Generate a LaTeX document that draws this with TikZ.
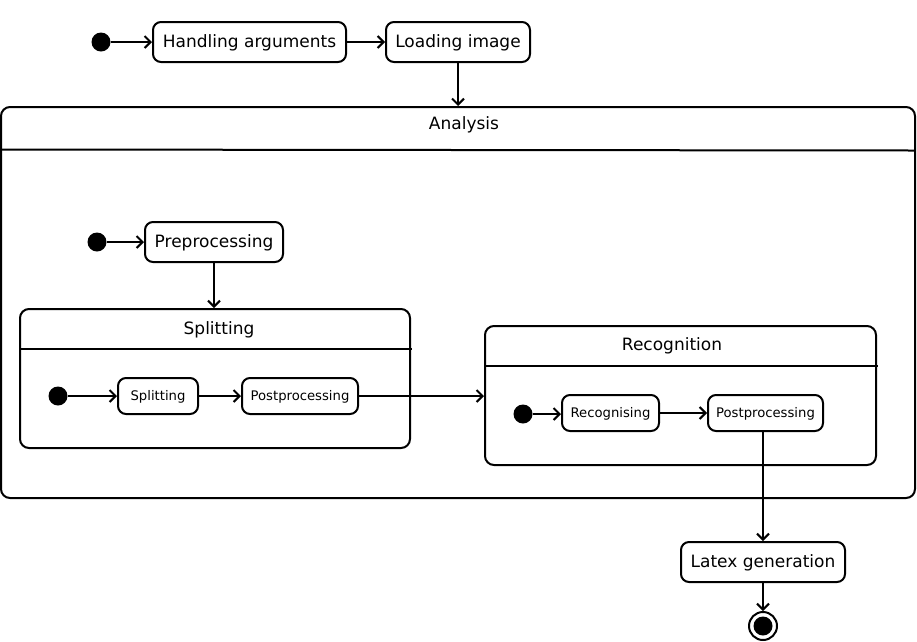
\documentclass[tikz,border=0pt]{standalone}
\usepackage{fontspec}
\setmainfont{DejaVu Sans}
\usetikzlibrary{arrows.meta}
\begin{document}
\begin{tikzpicture}[x=1pt,y=-1pt,
  lw/.style={line width=2pt},
  bigtext/.style={font=\fontsize{17}{20}\selectfont, text height=13.5pt, text depth=2.5pt},
  smalltext/.style={font=\fontsize{13.2}{15}\selectfont, text height=11pt, text depth=2pt},
  statebox/.style={draw, lw, rounded corners=8pt, inner sep=0pt, bigtext},
  smallbox/.style={draw, lw, rounded corners=8pt, inner sep=0pt, smalltext},
  compbox/.style={draw, lw, rounded corners=9pt, inner sep=0pt},
  initdot/.style={circle, fill=black, minimum size=19pt, inner sep=0pt},
  arr/.style={draw, line width=2pt, -{Straight Barb[length=6pt,width=12pt]}}
]
\useasboundingbox (0,0) rectangle (917,641);

% top row
\node[initdot] (i0) at (101,42) {};
\node[statebox, minimum width=193pt, minimum height=40pt] (hand) at (249.5,42) {Handling arguments};
\node[statebox, minimum width=144pt, minimum height=40pt] (load) at (458,42) {Loading image};

% Analysis composite
\node[compbox, minimum width=914pt, minimum height=391pt] (analysis) at (458,302.5) {};
\node[bigtext] (analysisT) at (464,124) {Analysis};
\coordinate (ahl) at (1,149.5);
\coordinate (ahr) at (915,150.5);
\draw[lw] (ahl) -- (ahr);

\node[initdot] (i1) at (97,242) {};
\node[statebox, minimum width=138pt, minimum height=40pt] (pre) at (214,242) {Preprocessing};

% Splitting composite
\node[compbox, minimum width=390pt, minimum height=139pt] (split) at (215,378.5) {};
\node[bigtext] (splitT) at (219,329) {Splitting};
\coordinate (shl) at (20,349);
\coordinate (shr) at (412,349);
\draw[lw] (shl) -- (shr);
\node[initdot] (i2) at (58,396) {};
\node[smallbox, minimum width=80pt, minimum height=36pt] (spl) at (158,396) {Splitting};
\node[smallbox, minimum width=116pt, minimum height=36pt] (pp1) at (300,396) {Postprocessing};

% Recognition composite
\node[compbox, minimum width=391pt, minimum height=139pt] (recog) at (680.5,395.5) {};
\node[bigtext] (recogT) at (672,345) {Recognition};
\coordinate (rhl) at (485,366);
\coordinate (rhr) at (878,366);
\draw[lw] (rhl) -- (rhr);
\node[initdot] (i3) at (523,414) {};
\node[smallbox, minimum width=97pt, minimum height=36pt] (rec) at (610.5,413) {Recognising};
\node[smallbox, minimum width=115pt, minimum height=36pt] (pp2) at (765.5,413) {Postprocessing};

% bottom
\node[statebox, minimum width=164pt, minimum height=40pt] (latex) at (763,562) {Latex generation};
\node[circle, draw, lw, minimum size=28pt, inner sep=0pt] (final) at (763,626) {};
\fill (final.center) circle (9.5pt);

% connectors
\draw[arr] (i0.east) -- (hand.west |- i0.east);
\draw[arr] (hand.east) -- (load.west |- hand.east);
\draw[arr] (load.south) -- (analysis.north -| load.south);
\draw[arr] (i1.east) -- (pre.west |- i1.east);
\draw[arr] (pre.south) -- (split.north -| pre.south);
\draw[arr] (i2.east) -- (spl.west |- i2.east);
\draw[arr] (spl.east) -- (pp1.west |- spl.east);
\draw[arr] (pp1.east) -- (recog.west |- pp1.east);
\draw[arr] (i3.east) -- (rec.west |- i3.east);
\draw[arr] (rec.east) -- (pp2.west |- rec.east);
\draw[arr] (latex.north |- pp2.south) -- (latex.north);
\draw[arr] (latex.south) -- (final.north);
\end{tikzpicture}
\end{document}
